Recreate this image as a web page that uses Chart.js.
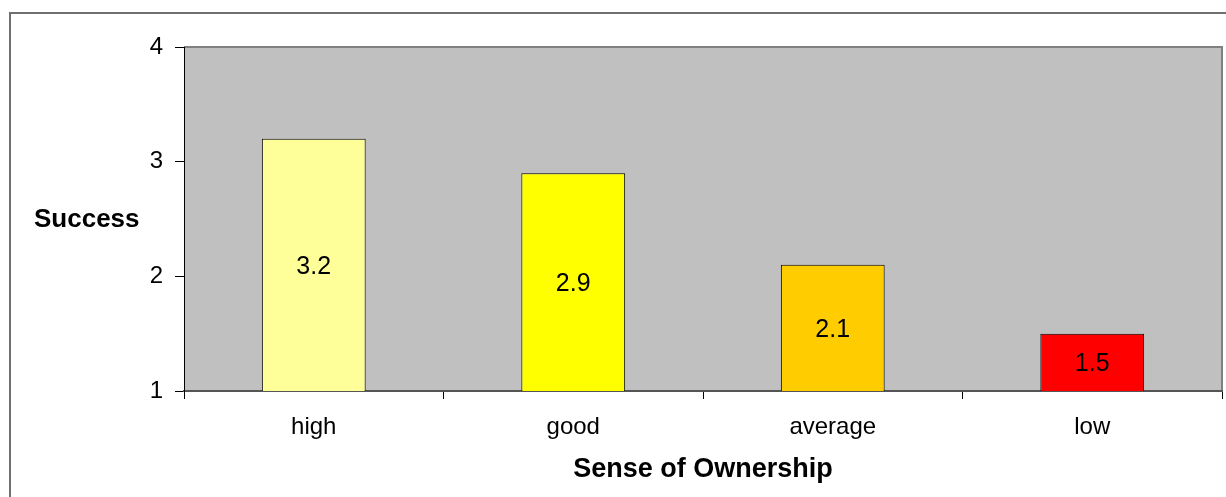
<!DOCTYPE html>
<html>
<head>
<meta charset="utf-8">
<script src="https://cdn.jsdelivr.net/npm/chart.js@4.4.1/dist/chart.umd.min.js"></script>
<style>
  html, body { margin: 0; padding: 0; background: #ffffff; }
  #c { display: block; }
</style>
</head>
<body>
<canvas id="c" width="1226" height="497"></canvas>
<script>
const categories = ["high", "good", "average", "low"];
const successValues = [3.2, 2.9, 2.1, 1.5];
const barColors = ["#FFFF99", "#FFFF00", "#FFCC00", "#FF0000"];
const yTickValues = [1, 2, 3, 4];
const yAxisTitle = "Success";
const xAxisTitle = "Sense of Ownership";

const FONT = '"Liberation Sans", Arial, sans-serif';

const decorPlugin = {
  id: 'decor',
  beforeDraw(chart) {
    const ctx = chart.ctx;
    const a = chart.chartArea;
    ctx.save();
    ctx.fillStyle = '#ffffff';
    ctx.fillRect(0, 0, chart.width, chart.height);
    // outer frame
    ctx.strokeStyle = '#707070';
    ctx.lineWidth = 2;
    ctx.beginPath();
    ctx.moveTo(10, chart.height + 2);
    ctx.lineTo(10, 13);
    ctx.lineTo(chart.width + 2, 13);
    ctx.stroke();
    // plot background
    ctx.fillStyle = '#C0C0C0';
    ctx.fillRect(a.left, a.top, a.right - a.left, a.bottom - a.top);
    ctx.strokeStyle = '#808080';
    ctx.lineWidth = 2;
    ctx.beginPath();
    ctx.moveTo(a.left, a.top);
    ctx.lineTo(a.right, a.top);
    ctx.lineTo(a.right, a.bottom);
    ctx.stroke();
    ctx.restore();
  },
  afterDatasetsDraw(chart) {
    const ctx = chart.ctx;
    const a = chart.chartArea;
    const meta = chart.getDatasetMeta(0);
    ctx.save();
    ctx.fillStyle = '#000000';
    ctx.font = '25px ' + FONT;
    ctx.textAlign = 'center';
    ctx.textBaseline = 'alphabetic';
    meta.data.forEach((bar, i) => {
      const base = Math.min(bar.base, a.bottom);
      const mid = (bar.y + base) / 2;
      ctx.fillText(String(successValues[i]), bar.x, mid + 25 * 0.36);
    });
    // axis titles
    ctx.font = 'bold 26px ' + FONT;
    ctx.textAlign = 'left';
    ctx.fillText(yAxisTitle, 34, 227);
    ctx.font = 'bold 27px ' + FONT;
    ctx.textAlign = 'center';
    ctx.fillText(xAxisTitle, (a.left + a.right) / 2, 477);
    ctx.restore();
  }
};

new Chart(document.getElementById('c'), {
  type: 'bar',
  data: {
    labels: categories,
    datasets: [{
      data: successValues,
      backgroundColor: barColors,
      borderColor: '#000000',
      borderWidth: 1,
      borderSkipped: false,
      barPercentage: 0.4,
      categoryPercentage: 1.0
    }]
  },
  options: {
    responsive: false,
    animation: false,
    layout: { padding: { top: 47, right: 4, left: 0, bottom: 0 } },
    plugins: {
      legend: { display: false },
      tooltip: { enabled: false }
    },
    scales: {
      x: {
        offset: true,
        grid: {
          offset: true,
          drawOnChartArea: false,
          drawTicks: true,
          tickLength: 8,
          color: '#000000'
        },
        border: { display: true, color: '#555555', width: 2 },
        ticks: {
          color: '#000000',
          font: { family: FONT, size: 24 },
          padding: 14,
          maxRotation: 0
        },
        afterFit(scale) { scale.height = 106; }
      },
      y: {
        min: 1,
        max: 4,
        afterBuildTicks(scale) {
          scale.ticks = yTickValues.map(v => ({ value: v }));
        },
        grid: {
          drawOnChartArea: false,
          drawTicks: true,
          tickLength: 9,
          color: '#000000'
        },
        border: { display: true, color: '#000000', width: 1 },
        ticks: {
          color: '#000000',
          font: { family: FONT, size: 24 },
          padding: 12
        },
        afterFit(scale) { scale.width = 184; }
      }
    }
  },
  plugins: [decorPlugin]
});
</script>
</body>
</html>
